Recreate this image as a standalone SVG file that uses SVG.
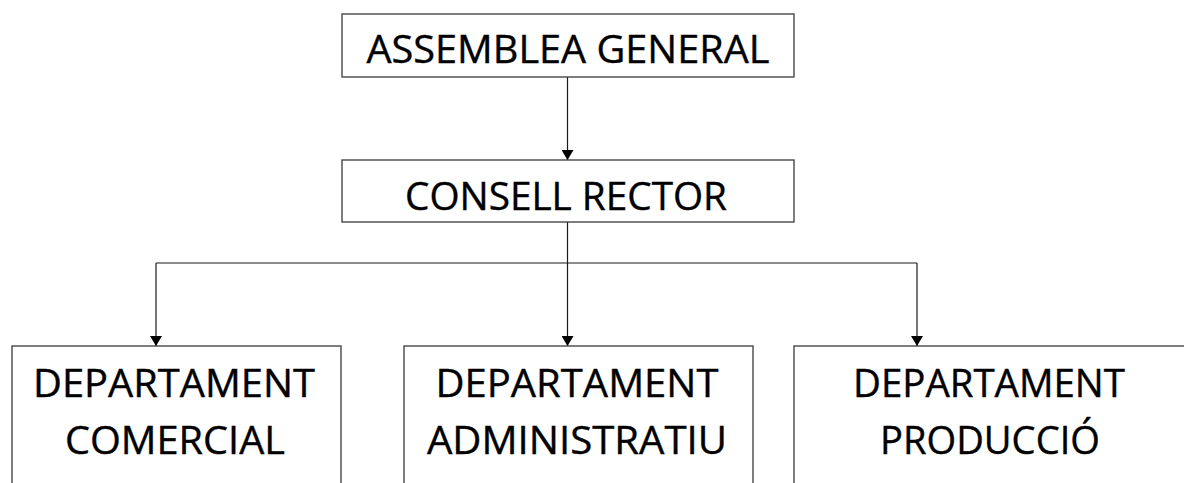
<svg xmlns="http://www.w3.org/2000/svg" width="1184" height="483" viewBox="0 0 1184 483">
<style>
.box{fill:#fff;stroke:#3a3a3a;stroke-width:1.3}
.t{font-family:"Open Sans","Liberation Sans",sans-serif;font-size:39px;fill:#000;text-anchor:middle;stroke:#000;stroke-width:0.4}
.c{fill:none;stroke:#1a1a1a;stroke-width:1.2}
</style>
<defs>
<marker id="ah" viewBox="0 0 10 12" refX="10" refY="6" markerWidth="10" markerHeight="12" markerUnits="userSpaceOnUse" orient="auto">
<path d="M0,0 L10,6 L0,12 Z" fill="#000"/>
</marker>
</defs>
<rect width="1184" height="483" fill="#fff"/>
<g id="connectors">
<line class="c" x1="567.5" y1="77" x2="567.5" y2="160" marker-end="url(#ah)"/>
<line class="c" x1="567.5" y1="222" x2="567.5" y2="346" marker-end="url(#ah)"/>
<line class="c" x1="156" y1="263" x2="917" y2="263"/>
<line class="c" x1="156" y1="263" x2="156" y2="346" marker-end="url(#ah)"/>
<line class="c" x1="917" y1="263" x2="917" y2="346" marker-end="url(#ah)"/>
</g>
<g id="assemblea">
<rect class="box" x="342" y="14" width="452" height="63"/>
<text class="t" x="568" y="63" textLength="403" lengthAdjust="spacingAndGlyphs">ASSEMBLEA GENERAL</text>
</g>
<g id="consell">
<rect class="box" x="342" y="160" width="452" height="62"/>
<text class="t" x="566" y="210" textLength="322" lengthAdjust="spacingAndGlyphs">CONSELL RECTOR</text>
</g>
<g id="comercial">
<rect class="box" x="12" y="346" width="329" height="150"/>
<text class="t" x="174" y="397" textLength="282" lengthAdjust="spacingAndGlyphs">DEPARTAMENT</text>
<text class="t" x="175" y="454" textLength="220" lengthAdjust="spacingAndGlyphs">COMERCIAL</text>
</g>
<g id="administratiu">
<rect class="box" x="404" y="346" width="349" height="150"/>
<text class="t" x="577" y="397" textLength="283" lengthAdjust="spacingAndGlyphs">DEPARTAMENT</text>
<text class="t" x="577" y="454" textLength="300" lengthAdjust="spacingAndGlyphs">ADMINISTRATIU</text>
</g>
<g id="produccio">
<rect class="box" x="794" y="346" width="400" height="150"/>
<text class="t" x="989" y="397" textLength="272" lengthAdjust="spacingAndGlyphs">DEPARTAMENT</text>
<text class="t" x="990" y="454" textLength="220" lengthAdjust="spacingAndGlyphs">PRODUCCIÓ</text>
</g>
</svg>
